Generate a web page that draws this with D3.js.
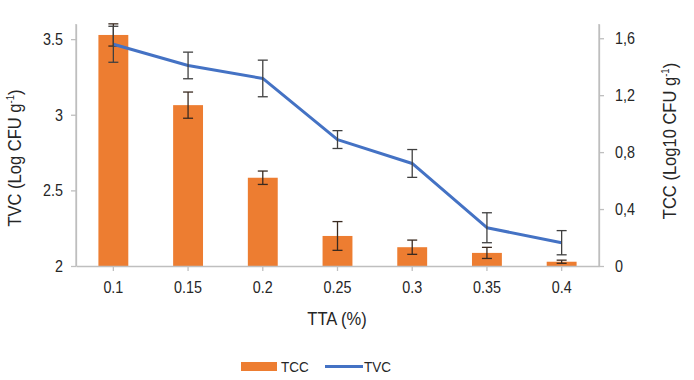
<!DOCTYPE html>
<html><head><meta charset="utf-8">
<script src="https://cdn.jsdelivr.net/npm/d3@7"></script>
<style>
html,body{margin:0;padding:0;background:#fff;}
text{font-family:"Liberation Sans Narrow","Arial Narrow","Liberation Sans",Arial,sans-serif;fill:#262626;}
</style></head>
<body>
<svg id="chart" width="694" height="380"></svg>
<script>
const categories = ["0.1","0.15","0.2","0.25","0.3","0.35","0.4"];
const tccValues = [1.623, 1.13, 0.62, 0.211, 0.132, 0.092, 0.03];
const tccErrors = [0.078, 0.092, 0.047, 0.101, 0.05, 0.039, 0.011];
const tvcValues = [3.466, 3.326, 3.24, 2.836, 2.678, 2.253, 2.154];
const tvcErrors = [0.119, 0.088, 0.121, 0.059, 0.092, 0.099, 0.08];
const leftTicks = [2, 2.5, 3, 3.5];
const leftTickLabels = ["2", "2.5", "3", "3.5"];
const rightTicks = [0, 0.4, 0.8, 1.2, 1.6];
const rightTickLabels = ["0", "0,4", "0,8", "1,2", "1,6"];

const SX = 0.87; // horizontal condensing to imitate a narrow font
const svg = d3.select("#chart");
const L = 76, R = 599, T = 24, B = 266;
const x = d3.scaleBand().domain(categories).range([L, R]).paddingInner(0).paddingOuter(0);
const yL = d3.scaleLinear().domain([2, 3.6]).range([B, T]);
const yR = d3.scaleLinear().domain([0, 1.7]).range([B, T]);
const axisColor = "#bfbfbf";
const errColor = "#404040";

// bars (TCC, right axis)
const bw = x.bandwidth() * 0.4;
svg.append("g").selectAll("rect").data(categories).join("rect")
  .attr("x", d => x(d) + x.bandwidth()/2 - bw/2)
  .attr("y", (d,i) => yR(tccValues[i]))
  .attr("width", bw)
  .attr("height", (d,i) => yR(0) - yR(tccValues[i]))
  .attr("fill", "#ED7D31");

// axes
const gx = svg.append("g").attr("transform", `translate(0,${B})`)
  .call(d3.axisBottom(x).tickSize(5).tickPadding(10).tickSizeOuter(0));
const gl = svg.append("g").attr("transform", `translate(${L},0)`)
  .call(d3.axisLeft(yL).tickValues(leftTicks).tickFormat((d,i) => leftTickLabels[i]).tickSize(5).tickPadding(8).tickSizeOuter(0));
const gr = svg.append("g").attr("transform", `translate(${R},0)`)
  .call(d3.axisRight(yR).tickValues(rightTicks).tickFormat((d,i) => rightTickLabels[i]).tickSize(5).tickPadding(11).tickSizeOuter(0));
[gx, gl, gr].forEach(g => {
  g.select(".domain").attr("stroke", axisColor).attr("stroke-width", 1.3);
  g.selectAll(".tick line").attr("stroke", axisColor).attr("stroke-width", 1.3);
  g.selectAll(".tick text").attr("font-size", 16.5).attr("fill", "#262626")
    .style("font-family", '"Liberation Sans Narrow","Arial Narrow","Liberation Sans",Arial,sans-serif')
    .each(function() {
      const t = d3.select(this);
      const xv = +t.attr("x") || 0;
      t.attr("x", xv / SX).attr("transform", `scale(${SX},1)`);
    });
});
svg.append("line").attr("x1", L).attr("x2", L).attr("y1", T).attr("y2", B).attr("stroke", axisColor).attr("stroke-width", 1.3);
svg.append("line").attr("x1", R).attr("x2", R).attr("y1", T).attr("y2", B).attr("stroke", axisColor).attr("stroke-width", 1.3);

function errBars(vals, errs, scale, color) {
  const g = svg.append("g").attr("stroke", color).attr("stroke-width", 1.3).attr("fill", "none");
  categories.forEach((c, i) => {
    const cx = x(c) + x.bandwidth()/2;
    const y1 = scale(vals[i] + errs[i]), y2 = scale(vals[i] - errs[i]);
    g.append("line").attr("x1", cx).attr("x2", cx).attr("y1", y1).attr("y2", y2);
    g.append("line").attr("x1", cx-5).attr("x2", cx+5).attr("y1", y1).attr("y2", y1);
    g.append("line").attr("x1", cx-5).attr("x2", cx+5).attr("y1", y2).attr("y2", y2);
  });
}
errBars(tccValues, tccErrors, yR, "#3a2a20");

// line (TVC, left axis)
const line = d3.line().x((d,i) => x(categories[i]) + x.bandwidth()/2).y(d => yL(d));
svg.append("path").datum(tvcValues).attr("d", line)
  .attr("fill", "none").attr("stroke", "#4472C4").attr("stroke-width", 3).attr("stroke-linejoin", "round");
errBars(tvcValues, tvcErrors, yL, errColor);

// axis titles
svg.append("text").attr("transform", `translate(337,325) scale(${SX},1)`).attr("text-anchor", "middle").attr("font-size", 19).text("TTA (%)");
const lt = svg.append("text").attr("transform", `translate(21,158) rotate(-90) scale(${SX},1)`).attr("text-anchor", "middle").attr("font-size", 19);
lt.append("tspan").text("TVC (Log CFU g");
lt.append("tspan").attr("font-size", 11).attr("dy", -7).text("-1");
lt.append("tspan").attr("dy", 7).text(")");
const rt = svg.append("text").attr("transform", `translate(676,141) rotate(-90) scale(${SX},1)`).attr("text-anchor", "middle").attr("font-size", 19);
rt.append("tspan").text("TCC (Log10 CFU g");
rt.append("tspan").attr("font-size", 11).attr("dy", -7).text("-1");
rt.append("tspan").attr("dy", 7).text(")");

// legend
const lg = svg.append("g");
lg.append("rect").attr("x", 241).attr("y", 362).attr("width", 36).attr("height", 9).attr("fill", "#ED7D31");
lg.append("text").attr("transform", `translate(281,372) scale(${SX},1)`).attr("font-size", 15.5).text("TCC");
lg.append("line").attr("x1", 325).attr("x2", 363).attr("y1", 366.5).attr("y2", 366.5).attr("stroke", "#4472C4").attr("stroke-width", 3);
lg.append("text").attr("transform", `translate(364,372) scale(${SX},1)`).attr("font-size", 15.5).text("TVC");
</script>
</body></html>
